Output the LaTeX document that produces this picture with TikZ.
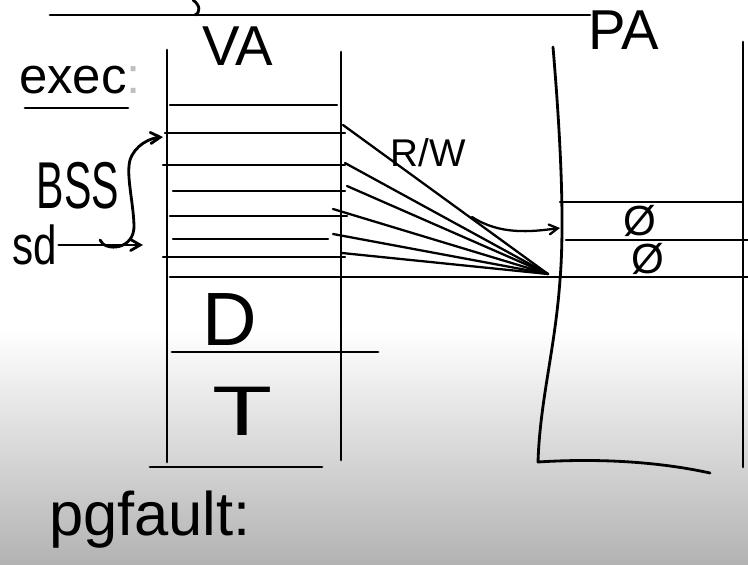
\documentclass[tikz,border=0pt]{standalone}
\usepackage{fontspec}
\setmainfont{Liberation Sans}
\usepackage{graphicx}
\usetikzlibrary{arrows, positioning}

\begin{document}
\begin{tikzpicture}[x=0.02cm, y=-0.02cm, >=angle 60, line width=1.6pt, line cap=round, line join=round,
  lbl/.style={inner sep=0pt, font=\fontsize{32}{32}\selectfont},
  slot/.style={line width=1.4pt},
  map/.style={line width=1.3pt}]
\useasboundingbox (0,0) rectangle (748,565);
\fill[white] (0,0) rectangle (748,330);
\shade[top color=white, bottom color=black!30] (0,330) rectangle (748,565);
% heading rule
\draw (50,15) -- (590,15);
\draw (193,0) .. controls (200,5) and (201,12) .. (195,15);
% labels
\node[lbl] (va) at (238,46) {VA};
\node[lbl] (pa) at (624,30) {PA};
\node[lbl, font=\fontsize{29}{29}\selectfont] (exec) at (80,80) {exec\textcolor{black!25}{:}};
\draw (25,108) -- (128,108);
\node[lbl, font=\fontsize{26}{26}\selectfont] (bss) at (78,186) {\scalebox{0.9}[1.45]{BSS}};
\node[lbl, font=\fontsize{24}{24}\selectfont] (sd) at (35,245) {\scalebox{1}[1.3]{sd}};
\node[lbl, font=\fontsize{22}{22}\selectfont] (rw) at (428,153) {R/W};
\node[lbl, font=\fontsize{35}{35}\selectfont] (pgf) at (150,520) {pgfault:};
% VA
\draw (167,50) -- (167,462);
\draw (341,52) -- (341,460);
\foreach \y/\a/\b in {105/170/337, 133/165/345, 165/163/345, 191/173/345, 216/170/347, 239/173/328, 257/163/345}
  \draw[slot] (\a,\y) -- (\b,\y);
\draw (170,277) -- (748,277);
\node[lbl, font=\fontsize{43}{43}\selectfont] (d) at (230,320) {D};
\draw (172,352) -- (378,352);
\node[lbl, font=\fontsize{40}{40}\selectfont] (t) at (243,411) {\scalebox{1.4}[1]{T}};
\draw (150,467) -- (322,467);
% PA
\draw (553,47) .. controls (560,130) and (565,220) .. (560,280)
  .. controls (555,350) and (540,400) .. (538,462)
  .. controls (600,458) and (660,462) .. (710,473);
\draw (743,42) -- (743,467);
\draw[slot] (560,202) -- (743,202);
\draw[slot] (566,240) -- (748,240);
\node[lbl, font=\fontsize{24}{24}\selectfont] (z1) at (640,221) {Ø};
\node[lbl, font=\fontsize{24}{24}\selectfont] (z2) at (648,259) {Ø};
% mappings
\coordinate (pf) at (548,274);
\coordinate (br) at (472,217);
\coordinate (pslot) at (560,228);
\foreach \n/\x/\y in {1/343/125, 2/345/163, 3/347/186, 4/333/209, 5/333/234, 6/342/253}
  \coordinate (v\n) at (\x,\y);
\foreach \n in {1,...,6}
  \draw[map] (v\n) -- (pf);
\draw[map, ->] (br) .. controls (500,235) and (530,232) .. (pslot);
% stack / bss arrows
\coordinate (sdend) at (143,245);
\coordinate (bssfrom) at (100,240);
\coordinate (vaslot) at (163,137);
\draw[->] (sd) -- (sdend);
\draw[->] (bssfrom) .. controls (105,252) and (135,250) .. (134,225)
  .. controls (133,200) and (126,175) .. (130,160)
  .. controls (135,145) and (150,138) .. (vaslot);
\end{tikzpicture}
\end{document}
